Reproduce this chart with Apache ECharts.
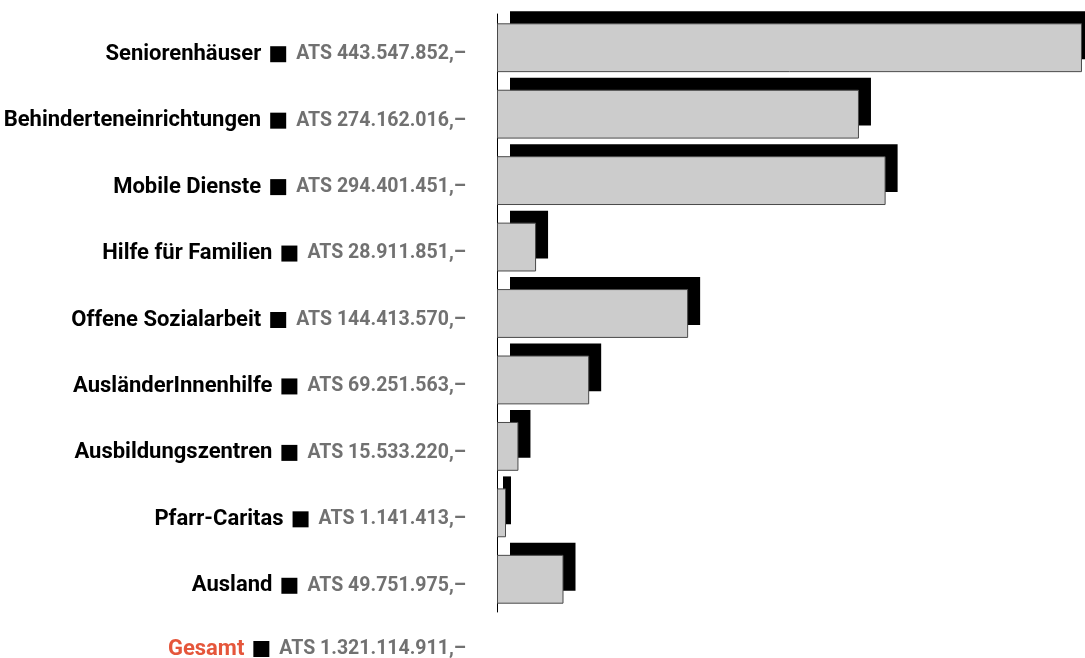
<!DOCTYPE html>
<html>
<head>
<meta charset="utf-8">
<script src="https://cdn.jsdelivr.net/npm/echarts@6/dist/echarts.min.js"></script>
<style>
    html, body { margin: 0; padding: 0; background: #fff; }
    #chart { width: 1085px; height: 658px; }
</style>
</head>
<body>
<div id="chart"></div>
<script>
    var categories = ['Seniorenhäuser', 'Behinderteneinrichtungen', 'Mobile Dienste', 'Hilfe für Familien',
        'Offene Sozialarbeit', 'AusländerInnenhilfe', 'Ausbildungszentren', 'Pfarr-Caritas', 'Ausland'];
    var values = [443547852, 274162016, 294401451, 28911851, 144413570, 69251563, 15533220, 1141413, 49751975];
    var valueLabels = ['ATS 443.547.852,–', 'ATS 274.162.016,–', 'ATS 294.401.451,–', 'ATS 28.911.851,–',
        'ATS 144.413.570,–', 'ATS 69.251.563,–', 'ATS 15.533.220,–', 'ATS 1.141.413,–', 'ATS 49.751.975,–'];
    var totalName = 'Gesamt';
    var totalLabel = 'ATS 1.321.114.911,–';

    var font = 'Roboto, "Liberation Sans", sans-serif';
    var rich = {
        n: { fontFamily: font, fontWeight: 'bold', fontSize: 22, color: '#000' },
        t: { fontFamily: font, fontWeight: 'bold', fontSize: 22, color: '#e5563b' },
        g1: { width: 9 },
        g2: { width: 10 },
        sq: { width: 16, height: 16, backgroundColor: '#000' },
        v: { fontFamily: font, fontWeight: 'bold', fontSize: 19.5, color: '#717171' }
    };

    function renderBar(params, api) {
        var cat = api.value(1);
        var start = api.coord([0, cat]);
        var end = api.coord([api.value(0), cat]);
        var h = api.size([0, 1])[1] * 0.72;
        var w = Math.max(end[0] - start[0], 8);
        // shadow offset shrinks for very thin bars
        var dx = Math.min(13, w * 0.75);
        return {
            type: 'group',
            children: [
                {
                    type: 'rect',
                    shape: { x: start[0] + dx, y: start[1] - h / 2 - 12, width: w, height: h },
                    style: { fill: '#000' }
                },
                {
                    type: 'rect',
                    shape: { x: start[0] + 0.5, y: start[1] - h / 2 + 0.5, width: w, height: h },
                    style: { fill: '#cccccc', stroke: '#4a4a4a', lineWidth: 1 }
                }
            ]
        };
    }

    var chart = echarts.init(document.getElementById('chart'));
    var option = {
        animation: false,
        title: {
            text: '{t|' + totalName + '}{g1| }{sq|}{g2| }{v|' + totalLabel + '}',
            right: 619,
            top: 638,
            padding: 0,
            textStyle: { rich: rich }
        },
        grid: { left: 497, right: 0, top: 14, bottom: 46, outerBoundsMode: 'none', containLabel: false },
        xAxis: { type: 'value', min: 0, max: 446600000, show: false },
        yAxis: {
            type: 'category',
            inverse: true,
            data: categories,
            axisLine: { show: true, lineStyle: { color: '#000', width: 1 } },
            axisTick: { show: false },
            splitLine: { show: false },
            axisLabel: {
                margin: 31,
                padding: [14, 0, 0, 0],
                formatter: function (name, i) {
                    return '{n|' + name + '}{g1| }{sq|}{g2| }{v|' + valueLabels[i] + '}';
                },
                rich: rich
            }
        },
        series: [{
            type: 'custom',
            renderItem: renderBar,
            encode: { x: 0, y: 1 },
            data: values.map(function (v, i) { return [v, i]; })
        }]
    };
    chart.setOption(option);
</script>
</body>
</html>
